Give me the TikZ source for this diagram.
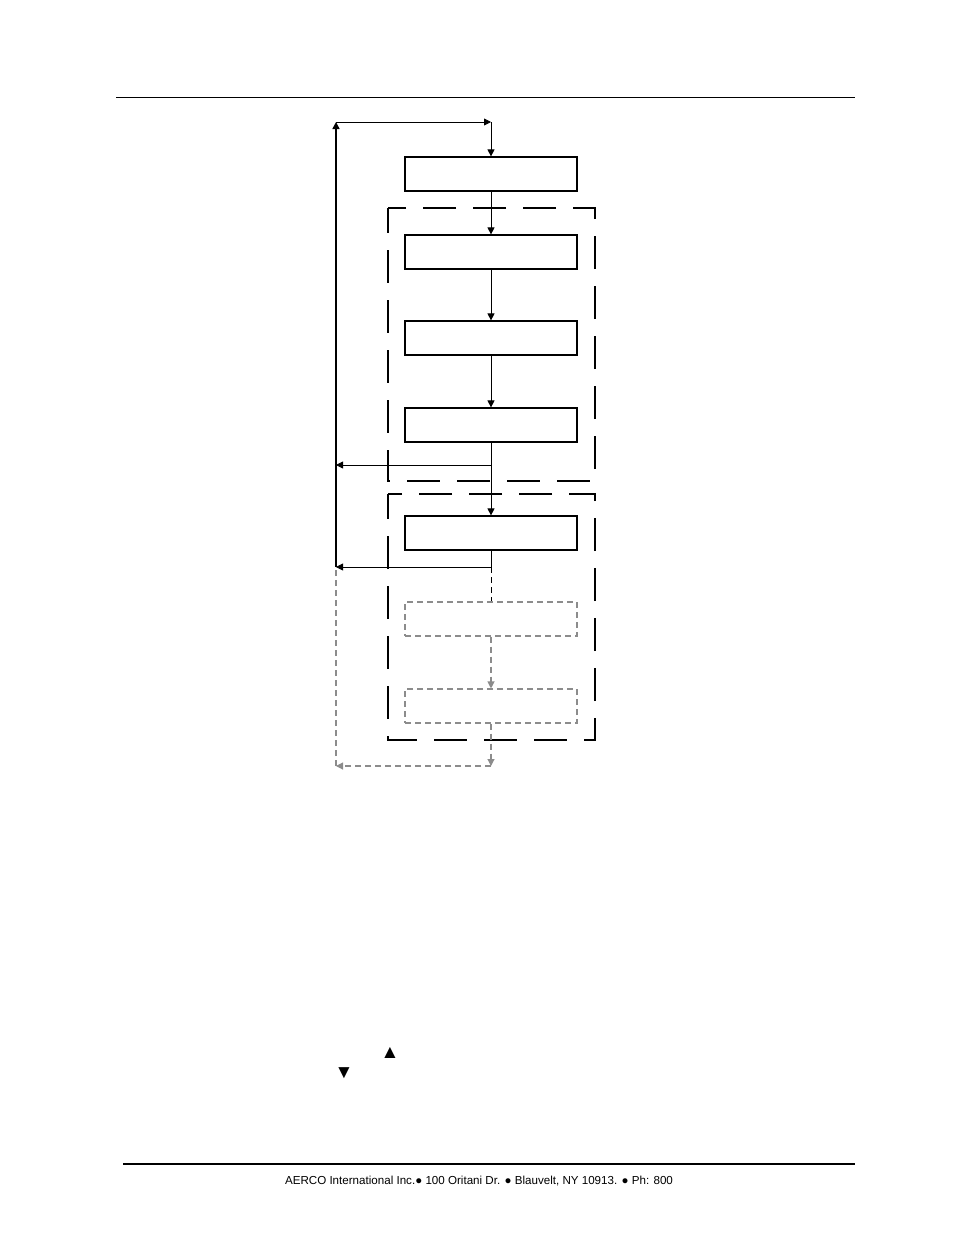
\documentclass[tikz,border=0pt]{standalone}
\usepackage{fontspec}
\setmainfont{Liberation Sans}
\usetikzlibrary{arrows.meta}

\begin{document}
\begin{tikzpicture}[x=1pt,y=-1pt,
  stepbox/.style={draw,line width=1.2pt,minimum width=172pt,minimum height=34pt,inner sep=0pt},
  optbox/.style={draw=black!45,line width=1.1pt,dash pattern=on 6pt off 4pt,minimum width=172pt,minimum height=34pt,inner sep=0pt},
  flow/.style={line width=0.8pt,-{Triangle[length=7pt,width=7pt]}},
  optflow/.style={draw=black!45,line width=1.1pt,dash pattern=on 6pt off 4pt,-{Triangle[length=7pt,width=7pt]}},
  group/.style={line width=1.8pt,dash pattern=on 33pt off 17pt,dash phase=8pt}]

  \useasboundingbox (0,0) rectangle (954,1235);

  % page rules and footer
  \draw[line width=1pt] (116,97) -- (855,97);
  \draw[line width=1.8pt] (123,1164) -- (855,1164);
  \node[inner sep=0pt] (foot) at (479,1181) {\fontsize{11.6}{13}\selectfont AERCO International Inc.● 100 Oritani Dr. ● Blauvelt, NY 10913. ● Ph: 800};
  \node[inner sep=0pt] (up) at (390,1053) {\fontsize{19}{19}\selectfont ▲};
  \node[inner sep=0pt] (down) at (344,1073) {\fontsize{19}{19}\selectfont ▼};

  % dashed groups
  \draw[group] (388,208) rectangle (595,481);
  \draw[group] (388,494) rectangle (595,740);

  \draw (491,174) node[stepbox] (s1) {};
  \draw (491,252) node[stepbox] (s2) {};
  \draw (491,338) node[stepbox] (s3) {};
  \draw (491,425) node[stepbox] (s4) {};
  \draw (491,533) node[stepbox] (s5) {};
  \draw (491,619) node[optbox] (s6) {};
  \draw (491,706) node[optbox] (s7) {};

  \coordinate (top) at (491,122);
  \coordinate (topl) at (336,122);
  \coordinate (br1) at (491,465);
  \coordinate (l1) at (336,465);
  \coordinate (br2) at (491,567);
  \coordinate (l2) at (336,567);
  \coordinate (bot) at (491,766);
  \coordinate (botl) at (336,766);

  % main loop
  \draw[flow] (top) -- (s1.north);
  \draw[flow] (s1) -- (s2);
  \draw[flow] (s2) -- (s3);
  \draw[flow] (s3) -- (s4);
  \draw[flow] (s4) -- (s5);
  \draw[flow] (br1) -- (l1);
  \draw[flow] (s5.south) -- (br2) -- (l2);
  \draw[flow,line width=1.6pt] (l2) -- (topl);
  \draw[flow] (topl) -- (top);

  % optional steps
  \draw[line width=0.8pt,dash pattern=on 6pt off 4pt] (br2) -- (s6.north);
  \draw[optflow] (s6) -- (s7);
  \draw[optflow] (s7.south) -- (bot);
  \draw[optflow] (bot) -- (botl);
  \draw[draw=black!45,line width=1.3pt,dash pattern=on 6pt off 4pt] (botl) -- (l2);

\end{tikzpicture}
\end{document}
